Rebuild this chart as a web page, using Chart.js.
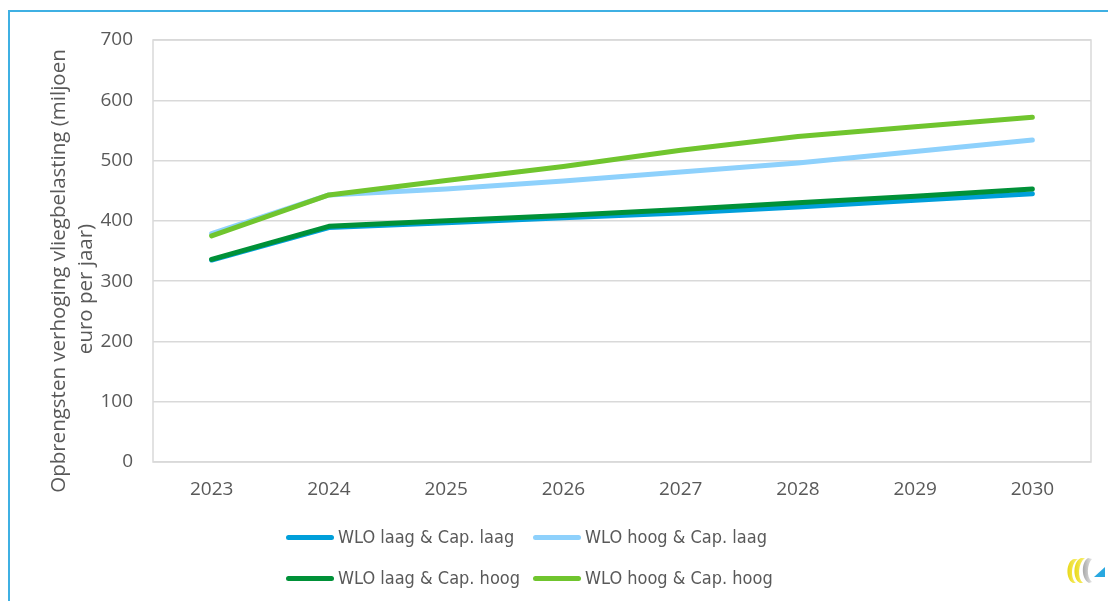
<!DOCTYPE html>
<html>
<head>
<meta charset="utf-8">
<script src="https://cdn.jsdelivr.net/npm/chart.js@4.4.0/dist/chart.umd.min.js"></script>
<style>
  html, body { margin:0; padding:0; background:#fff; }
  #wrap { position:relative; width:1108px; height:601px; overflow:hidden; }
  #frame { position:absolute; left:8px; top:10px; width:1200px; height:700px;
           border-left:2px solid #3FB0E3; border-top:2px solid #3FB0E3; }
  canvas { position:absolute; left:0; top:0; }
  .lg { position:absolute; font-family:"DejaVu Sans Condensed","DejaVu Sans",sans-serif;
        font-size:18px; color:#595959; white-space:nowrap; height:22px; line-height:22px; }
  .lg span.sw { display:inline-block; width:48px; height:5px; border-radius:3px;
                vertical-align:middle; margin-right:4px; position:relative; top:-1px; }
  #logo { position:absolute; left:1060px; top:552px; }
</style>
</head>
<body>
<div id="wrap">
  <div id="frame"></div>
  <canvas id="c" width="1108" height="601"></canvas>
  <div id="legend"></div>
  <svg id="logo" width="48" height="36" viewBox="0 0 48 36">
    <defs>
      <linearGradient id="yg" x1="0" y1="0" x2="1" y2="0">
        <stop offset="0" stop-color="#E8D81A"/><stop offset="1" stop-color="#FBF27A"/>
      </linearGradient>
      <linearGradient id="gg" x1="0" y1="0" x2="1" y2="0">
        <stop offset="0" stop-color="#A8A8A8"/><stop offset="1" stop-color="#E4E4E4"/>
      </linearGradient>
    </defs>
    <path d="M14 7 C6 9 5 27 13 31 L16 31 C10 26 11 11 18 7 Z" fill="url(#yg)"/>
    <path d="M21 6 C13 9 12 27 20 31 L23 31 C17 26 18 11 25 6 Z" fill="url(#yg)"/>
    <path d="M28 6 C21 10 21 27 29 31 L32 30 C26 25 27 12 32 7 Z" fill="url(#gg)"/>
    <path d="M34 25 L45 15 L45 25 Z" fill="#29A8E0"/>
  </svg>
</div>
<script>
const categories = ["2023","2024","2025","2026","2027","2028","2029","2030"];
const laagLaag = [335, 389, 397, 405, 413, 423, 434, 445];
const hoogLaag = [379, 443, 453, 466, 481, 496, 515, 534];
const laagHoog = [336, 391, 400, 409, 419, 430, 441, 453];
const hoogHoog = [375, 443, 467, 490, 517, 540, 556, 572];
const seriesNames = ["WLO laag & Cap. laag","WLO hoog & Cap. laag","WLO laag & Cap. hoog","WLO hoog & Cap. hoog"];
const yTicks = [0,100,200,300,400,500,600,700];
const yTitle = ["Opbrengsten verhoging vliegbelasting (miljoen","euro per jaar)"];

const colors = ["#009FDA","#8ED1FC","#009138","#70C52E"];
const seriesData = [laagLaag, hoogLaag, laagHoog, hoogHoog];
const orders = [4,3,2,1];

const datasets = seriesData.map((d,i)=>({
  label: seriesNames[i], data: d, borderColor: colors[i], backgroundColor: colors[i],
  borderWidth: 5, pointRadius: 0, pointHoverRadius: 0, tension: 0,
  borderCapStyle: 'round', borderJoinStyle: 'round', fill: false, order: orders[i]
}));

const frameBox = {
  id: 'frameBox',
  beforeDatasetsDraw(chart) {
    const {ctx, chartArea: a} = chart;
    ctx.save();
    ctx.strokeStyle = '#D9D9D9';
    ctx.lineWidth = 1.5;
    ctx.strokeRect(a.left, a.top, a.right - a.left, a.bottom - a.top);
    ctx.restore();
  }
};

// y-axis title, two lines, each centred like the original
const yTitlePlugin = {
  id: 'yTitle',
  afterDraw(chart) {
    const ctx = chart.ctx;
    const centres = [[59, 271], [86, 289]];
    ctx.save();
    ctx.fillStyle = '#595959';
    ctx.font = '20.5px "Open Sans"';
    ctx.textAlign = 'center';
    ctx.textBaseline = 'middle';
    yTitle.forEach((t, i) => {
      ctx.save();
      ctx.translate(centres[i][0], centres[i][1]);
      ctx.rotate(-Math.PI / 2);
      ctx.fillText(t, 0, 0);
      ctx.restore();
    });
    ctx.restore();
  }
};

new Chart(document.getElementById('c'), {
  type: 'line',
  data: { labels: categories, datasets },
  options: {
    responsive: false, animation: false,
    layout: { padding: { left: 46, top: 40, right: 17, bottom: 89 } },
    plugins: { legend: { display: false }, tooltip: { enabled: false } },
    scales: {
      x: {
        offset: true,
        grid: { display: false, drawTicks: false },
        border: { display: false },
        ticks: { color: '#595959', font: { family: 'Open Sans', size: 19 }, padding: 16 },
        afterFit(s) { s.height = 50; }
      },
      y: {
        min: 0, max: 700,
        afterBuildTicks(s) { s.ticks = yTicks.map(v => ({ value: v })); },
        grid: { color: '#D9D9D9', lineWidth: 1.5, drawTicks: false },
        border: { display: false },
        ticks: { color: '#595959', font: { family: 'Open Sans', size: 19 }, padding: 20 },
        title: { display: false },
        afterFit(s) { s.width = 107; }
      }
    }
  },
  plugins: [frameBox, yTitlePlugin]
});

// legend built from series definitions
const lg = document.getElementById('legend');
const pos = [[286,526],[533,526],[286,567],[533,567]];
seriesNames.forEach((n,i)=>{
  const d = document.createElement('div');
  d.className = 'lg';
  d.style.left = pos[i][0] + 'px';
  d.style.top = pos[i][1] + 'px';
  d.innerHTML = '<span class="sw" style="background:' + colors[i] + '"></span>' + n;
  lg.appendChild(d);
});
</script>
</body>
</html>
